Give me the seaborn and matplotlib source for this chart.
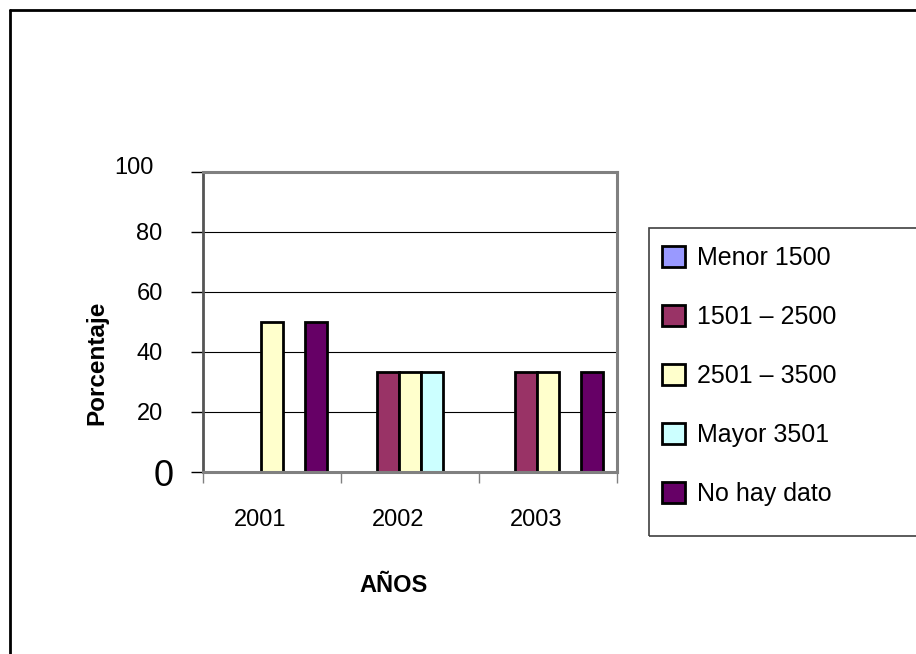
import numpy as np
import pandas as pd
import matplotlib
matplotlib.use("Agg")
import matplotlib.pyplot as plt
import matplotlib.transforms as mtransforms
from matplotlib.lines import Line2D
from matplotlib.patches import Rectangle, Patch
import seaborn as sns

# datos (porcentaje por año)
anios = ["2001", "2002", "2003"]
rangos = ["Menor 1500", "1501 – 2500", "2501 – 3500", "Mayor 3501", "No hay dato"]
menor_1500 = [0, 0, 0]
r1501_2500 = [0, 33.3, 33.3]
r2501_3500 = [50, 33.3, 33.3]
mayor_3501 = [0, 33.3, 0]
no_hay_dato = [50, 0, 33.3]
colores = ["#9999FF", "#993366", "#FFFFCC", "#CCFFFF", "#660066"]
yticks = [0, 20, 40, 60, 80, 100]

df = pd.DataFrame({
    "anio": anios * len(rangos),
    "rango": np.repeat(rangos, len(anios)),
    "pct": menor_1500 + r1501_2500 + r2501_3500 + mayor_3501 + no_hay_dato,
})

sns.set_theme(style="white")
plt.rcParams["font.family"] = ["Liberation Sans", "DejaVu Sans"]
plt.rcParams["text.color"] = "black"
plt.rcParams["axes.labelcolor"] = "black"
plt.rcParams["xtick.color"] = "black"
plt.rcParams["ytick.color"] = "black"

fig = plt.figure(figsize=(9.16, 6.54), dpi=100)
ax = fig.add_axes([203/916, 1-472/654, 414/916, 300/654])

sns.barplot(data=df, x="anio", y="pct", hue="rango", order=anios, hue_order=rangos,
            palette=colores, saturation=1, edgecolor="black", linewidth=2,
            width=0.8, legend=False, ax=ax)

# las barras con valor 0 no se ven en el original
for p in ax.patches:
    if p.get_height() == 0:
        p.set_visible(False)

ax.set_ylim(0, 100)
ax.set_xlim(-0.5, 2.5)
ax.set_yticks(yticks)
ax.set_yticklabels([str(v) for v in yticks])
ax.tick_params(axis="y", direction="out", length=9, width=1, color="black",
               labelsize=17, pad=20, left=True, labelcolor="black")
for lab in ax.get_yticklabels():
    if lab.get_text() == "100":
        lab.set_transform(lab.get_transform() + mtransforms.ScaledTranslation(-0.09, 0.07, fig.dpi_scale_trans))
    if lab.get_text() == "0":
        lab.set_fontsize(26)
        lab.set_transform(lab.get_transform() + mtransforms.ScaledTranslation(0.11, 0, fig.dpi_scale_trans))

ax.set_xticks([-0.5, 0.5, 1.5, 2.5])
ax.set_xticklabels([])
ax.set_xticks([0, 1, 2], minor=True)
ax.set_xticklabels(anios, minor=True)
ax.tick_params(axis="x", which="major", direction="out", length=8, width=1,
               color="#808080", bottom=True)
ax.tick_params(axis="x", which="minor", length=0, labelsize=17, pad=27, bottom=True,
               labelcolor="black")
for lab in ax.get_xticklabels(minor=True):
    lab.set_transform(lab.get_transform() + mtransforms.ScaledTranslation(-0.12, 0, fig.dpi_scale_trans))

ax.yaxis.grid(True, color="black", linewidth=0.8)
ax.set_axisbelow(True)

for s in ["top", "right", "bottom"]:
    ax.spines[s].set_color("#808080")
    ax.spines[s].set_linewidth(2.2)
ax.spines["left"].set_color("#555555")
ax.spines["left"].set_linewidth(2)

ax.set_xlabel("AÑOS", fontsize=17, fontweight="bold", color="black")
ax.xaxis.set_label_coords((394-203)/414, (472-585)/300)
ax.xaxis.label.set_va("center")
ax.set_ylabel("Porcentaje", fontsize=17.5, fontweight="bold", color="black")
ax.yaxis.set_label_coords((97-203)/414, (472-363)/300)
ax.yaxis.label.set_va("center")
ax.yaxis.label.set_ha("center")

# leyenda y su marco (cortado por el borde derecho como en el original)
handles = [Patch(facecolor=c, edgecolor="black", linewidth=2) for c in colores]
fig.legend(handles, rangos, loc="upper left", bbox_to_anchor=(662/916, 1-246/654),
           frameon=False, fontsize=18, handlelength=0.9, handleheight=0.9,
           handletextpad=0.5, labelspacing=1.4, borderpad=0, borderaxespad=0)
fig.patches.append(Rectangle((649/916, 1-536/654), 0.4, (536-228)/654,
                             transform=fig.transFigure, fill=False,
                             edgecolor="#404040", linewidth=1.2))

# borde del area del grafico
fig.add_artist(Line2D([10/916, 1.01], [1-10/654, 1-10/654], color="black", linewidth=2))
fig.add_artist(Line2D([10/916, 10/916], [-0.01, 1-10/654], color="black", linewidth=2))

fig.savefig("out.png", dpi=100)
